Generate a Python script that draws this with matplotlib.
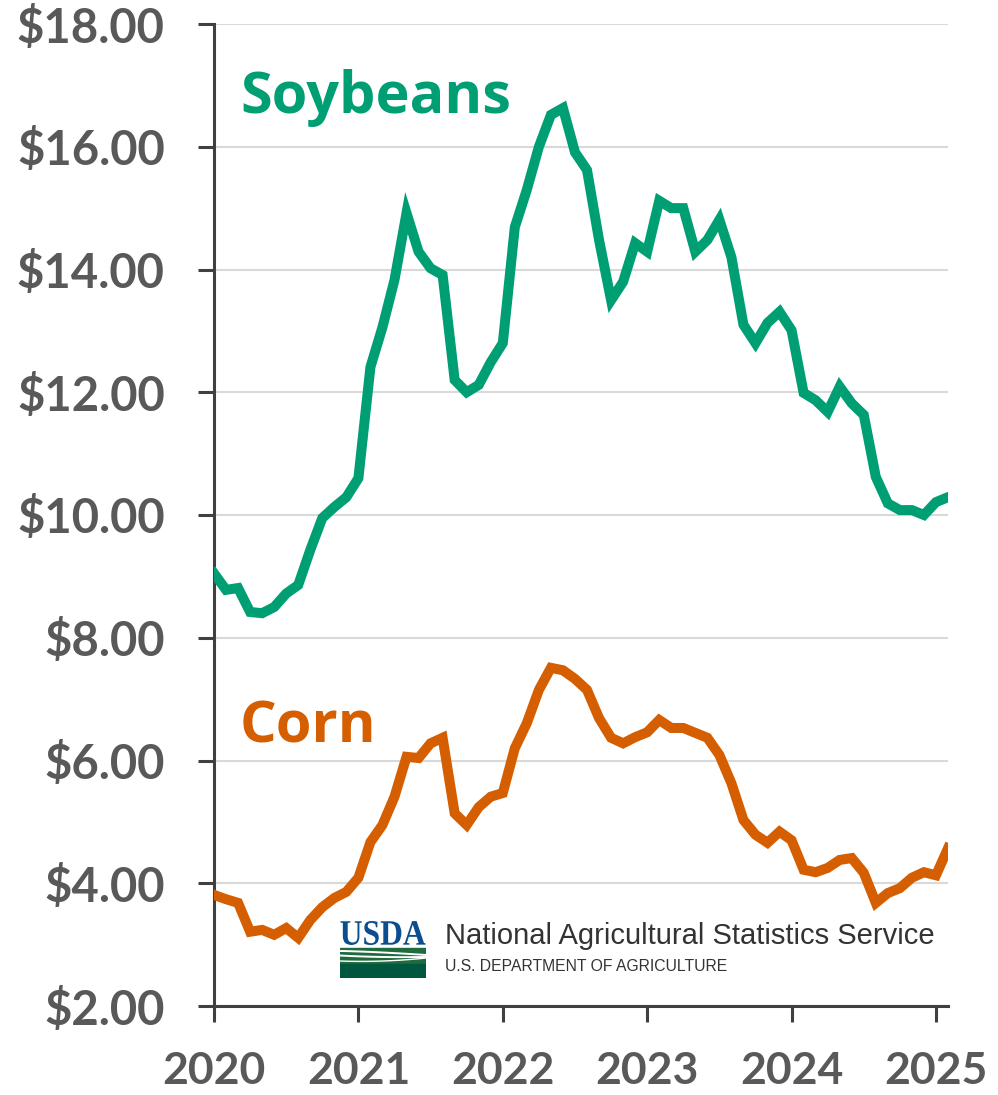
import matplotlib
matplotlib.use("Agg")
import matplotlib.pyplot as plt
from matplotlib.patches import Rectangle, PathPatch
from matplotlib.textpath import TextPath
from matplotlib.font_manager import FontProperties
from matplotlib.transforms import Affine2D
import numpy as np

# monthly prices received, Jan 2020 - Feb 2025 ($/bu)
soybeans = [9.05, 8.78, 8.81, 8.42, 8.40, 8.50, 8.72, 8.86, 9.43, 9.95, 10.13, 10.29,
            10.60, 12.41, 13.06, 13.83, 14.92, 14.29, 14.02, 13.91, 12.20, 12.00, 12.12, 12.49,
            12.80, 14.69, 15.30, 16.00, 16.52, 16.63, 15.91, 15.62, 14.48, 13.50, 13.80, 14.43,
            14.29, 15.12, 15.00, 15.00, 14.29, 14.48, 14.81, 14.20, 13.10, 12.80, 13.13, 13.31,
            13.01, 11.99, 11.87, 11.68, 12.09, 11.82, 11.63, 10.62, 10.19, 10.08, 10.08, 10.00,
            10.21, 10.29]
corn = [3.81, 3.74, 3.68, 3.21, 3.24, 3.16, 3.27, 3.11, 3.40, 3.61, 3.76, 3.86,
        4.09, 4.67, 4.95, 5.41, 6.06, 6.04, 6.28, 6.37, 5.14, 4.95, 5.24, 5.41,
        5.47, 6.20, 6.61, 7.15, 7.51, 7.47, 7.33, 7.15, 6.69, 6.37, 6.28, 6.38,
        6.46, 6.66, 6.53, 6.53, 6.45, 6.37, 6.09, 5.63, 5.03, 4.79, 4.66, 4.84,
        4.70, 4.22, 4.18, 4.25, 4.38, 4.41, 4.17, 3.68, 3.84, 3.92, 4.09, 4.18,
        4.13, 4.57]
years = [2020, 2021, 2022, 2023, 2024, 2025]
price_ticks = [2, 4, 6, 8, 10, 12, 14, 16, 18]

GREEN = "#009E73"
ORANGE = "#D55E00"
GREY = "#595959"
AXIS = "#404040"
FONT = "Lato"

months = 2020 + np.arange(len(soybeans)) / 12

W, H = 998, 1095
fig = plt.figure(figsize=(W / 100, H / 100), dpi=100)
ax = fig.add_axes([214 / W, 1 - 1006 / H, (948 - 214) / W, (1006 - 24) / H])

ax.plot(months, soybeans, color=GREEN, lw=7.2, solid_joinstyle="miter", zorder=3)
ax.plot(months, corn, color=ORANGE, lw=7.2, solid_joinstyle="miter", zorder=3)

ax.set_xlim(2020, months[-1])
ax.set_ylim(2, 18)
ax.set_xticks(years)
ax.set_xticklabels([str(y) for y in years])
ax.set_yticks(price_ticks)
ax.set_yticklabels([f"${v:.2f}" for v in price_ticks])

ax.grid(axis="y", color="#d9d9d9", lw=1.5)
ax.set_axisbelow(True)
for side in ["top", "right"]:
    ax.spines[side].set_visible(False)
for side in ["left", "bottom"]:
    ax.spines[side].set_color(AXIS)
    ax.spines[side].set_linewidth(2.2)
ax.tick_params(axis="both", colors=AXIS, width=2.2, length=11.5)
ax.tick_params(axis="y", pad=24)
ax.tick_params(axis="x", pad=21)
for lab in ax.get_xticklabels():
    lab.set_fontsize(32)
for lab in ax.get_yticklabels():
    lab.set_fontsize(34)
for lab in ax.get_xticklabels() + ax.get_yticklabels():
    lab.set_fontfamily(FONT)
    lab.set_fontweight("bold")
    lab.set_color(GREY)

ax.text(2020.18, 16.55, "Soybeans", color=GREEN, fontsize=41.5, fontweight="bold",
        family="Open Sans", va="baseline")
ax.text(2020.18, 6.30, "Corn", color=ORANGE, fontsize=41.5, fontweight="bold",
        family="Open Sans", va="baseline")

# agency logo: condensed serif wordmark over a green field
logo = fig.add_axes([340 / W, 1 - 978 / H, 86 / W, 57 / H])
logo.set_xlim(0, 86)
logo.set_ylim(0, 57)
logo.axis("off")
tp = TextPath((0, 0), "USDA", prop=FontProperties(family="Liberation Serif", weight="bold"), size=10)
bb = tp.get_extents()
sx_ = 85 / bb.width
sy_ = 24 / bb.height
tp = Affine2D().translate(-bb.x0, -bb.y0).scale(sx_, sy_).translate(0.5, 33).transform_path(tp)
logo.add_patch(PathPatch(tp, color="#0b4d8f", lw=0))
logo.add_patch(Rectangle((0, 0), 86, 30, color="#1f6b3e"))
logo.add_patch(Rectangle((0, 0), 86, 14, color="#00573f"))
cx = np.linspace(0, 86, 60)
t = cx / 86
logo.plot(cx, 27 - 4 * t ** 1.4, color="white", lw=1.4)
logo.plot(cx, 22 + 3 * (t - 0.4) ** 2 - 2 * t, color="white", lw=1.4)
logo.plot(cx, 17 + 6 * t ** 2 - 3 * t, color="white", lw=1.0)

fig.text(445 / W, 1 - 944 / H, "National Agricultural Statistics Service",
         family="Liberation Sans", fontsize=21, color="#333333", va="baseline")
fig.text(445 / W, 1 - 971 / H, "U.S. DEPARTMENT OF AGRICULTURE",
         family="Liberation Sans", fontsize=11.3, color="#333333", va="baseline")

fig.savefig("out.png", dpi=100, facecolor="white")
